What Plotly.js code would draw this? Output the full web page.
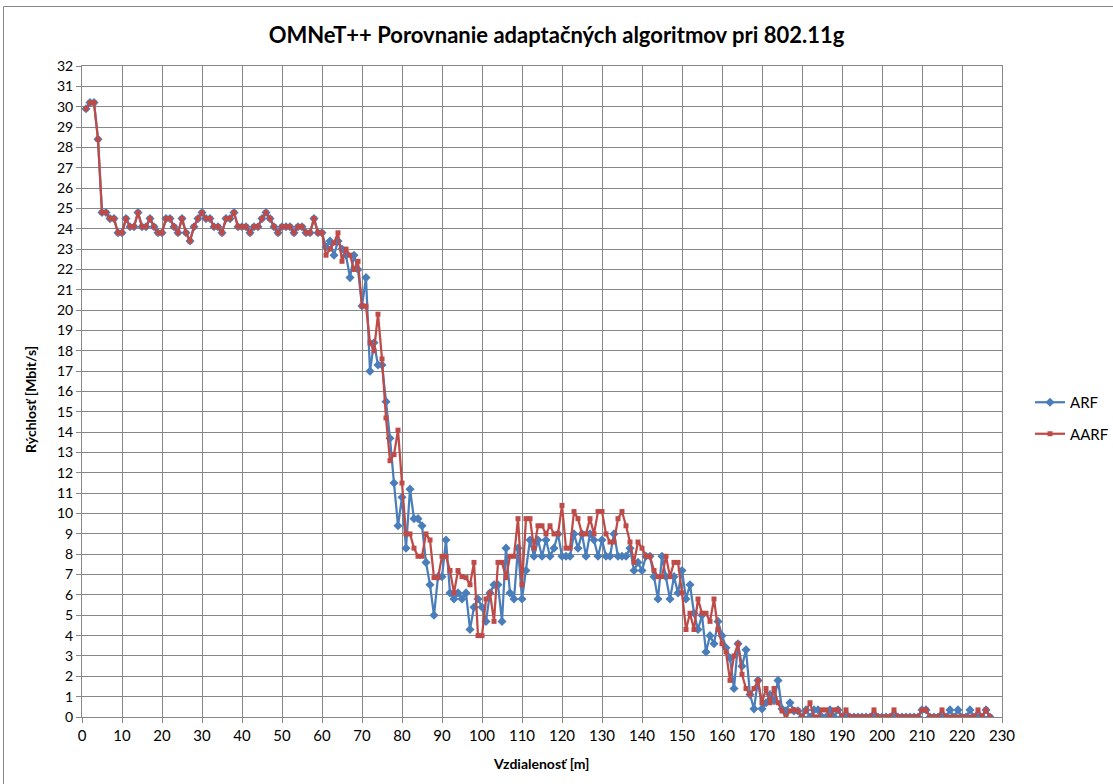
<!DOCTYPE html>
<html>
<head>
<meta charset="utf-8">
<script src="https://cdn.plot.ly/plotly-3.0.1.min.js"></script>
<style>html,body{margin:0;padding:0;background:#fff;}#chart{width:1113px;height:784px;}</style>
</head>
<body>
<div id="chart"></div>
<script>
// Distance values [m]
var distance = [];
for (var i = 1; i <= 227; i++) distance.push(i);

// Common part (1..60) identical for both algorithms
var commonStart = [29.9,30.2,30.2,28.4,24.8,24.8,24.5,24.5,23.8,23.8,
24.5,24.1,24.1,24.8,24.1,24.1,24.5,24.1,23.8,23.8,
24.5,24.5,24.1,23.8,24.5,23.8,23.4,24.1,24.5,24.8,
24.5,24.5,24.1,24.1,23.8,24.5,24.5,24.8,24.1,24.1,
24.1,23.8,24.1,24.1,24.5,24.8,24.5,24.1,23.8,24.1,
24.1,24.1,23.8,24.1,24.1,23.8,23.8,24.5,23.8,23.8];

// ARF values 61..227
var arfRest = [23.1,23.4,22.7,23.4,23.0,22.7,21.6,22.7,22.0,20.2,
21.6,17.0,18.4,17.3,17.3,15.5,13.7,11.5,9.4,10.8,
8.3,11.2,9.75,9.75,9.4,7.6,6.5,5.0,6.9,6.9,
8.7,6.1,5.8,6.1,5.8,6.1,4.3,5.4,5.8,5.4,
4.7,6.1,6.5,6.5,4.7,8.3,6.1,5.8,8.3,5.8,
7.2,8.7,7.9,8.7,7.9,8.7,7.9,8.3,9.0,7.9,
7.9,7.9,9.0,8.3,9.0,7.9,9.0,8.7,7.9,8.7,
7.9,7.9,9.0,7.9,7.9,7.9,8.3,7.2,7.6,7.2,
7.9,7.9,6.9,5.8,7.9,6.9,5.8,6.9,6.1,7.2,
5.8,6.5,5.1,4.3,5.0,3.2,4.0,3.6,4.7,4.0,
3.4,2.9,1.4,3.6,2.5,3.3,1.1,0.4,1.8,0.4,
0.7,1.1,0.8,1.8,0.4,0.3,0.7,0.3,0.3,0,
0.35,0,0.35,0.35,0,0,0.35,0,0.35,0,
0,0,0,0,0,0,0,0,0,0,
0,0,0,0,0,0,0,0,0,0.35,
0.35,0,0,0,0,0,0.35,0,0.35,0,
0,0.35,0,0,0,0.35,0];

// AARF values 61..227
var aarfRest = [22.7,23.0,23.3,23.8,22.4,23.0,22.7,22.0,22.4,20.2,
20.2,18.4,18.0,19.8,17.6,14.7,12.6,12.9,14.1,11.5,
9.0,9.0,8.3,7.9,7.9,9.0,8.7,6.85,6.85,7.9,
7.9,7.2,6.1,7.2,6.9,6.85,6.5,7.6,4.0,4.0,
5.8,6.1,4.7,7.6,7.6,6.85,7.9,7.9,9.75,6.5,
9.75,9.75,8.3,9.4,9.4,9.0,9.4,9.0,9.0,10.4,
8.3,8.3,10.1,9.75,9.0,9.0,9.75,9.0,10.1,10.1,
9.0,8.6,8.6,9.75,10.1,9.4,8.6,7.6,8.6,8.3,
7.9,7.9,7.2,6.9,6.9,7.9,6.9,7.6,7.6,6.1,
4.3,5.1,4.3,5.8,5.1,5.1,4.7,5.8,4.3,3.6,
3.2,1.8,3.0,3.6,2.1,1.4,1.1,1.4,1.8,0.7,
1.4,0.7,1.4,0.7,0.3,0,0.3,0.35,0.3,0,
0.3,0.7,0,0,0.35,0.35,0,0.35,0.35,0,
0.35,0,0,0,0,0,0,0.35,0,0,
0,0,0.35,0,0,0,0,0,0,0.35,
0.35,0,0,0,0.35,0,0,0,0,0,
0,0,0,0.35,0,0.35,0];

var arf = commonStart.concat(arfRest);
var aarf = commonStart.concat(aarfRest);

var xTicks = [];
for (var t = 0; t <= 230; t += 10) xTicks.push(t);
var yTicks = [];
for (var u = 0; u <= 32; u += 1) yTicks.push(u);

var seriesNames = ['ARF', 'AARF'];
var titleText = 'OMNeT++ Porovnanie adaptačných algoritmov pri 802.11g';
var xTitle = 'Vzdialenosť [m]';
var yTitle = 'Rýchlosť [Mbit/s]';

var W = 1113, H = 784;
var M = {l: 82, r: 111, t: 66, b: 67};
var pw = W - M.l - M.r, ph = H - M.t - M.b;
function px2x(p){ return (p - M.l) / pw; }
function py2y(p){ return (H - M.b - p) / ph; }

var font = 'Lato, "Liberation Sans", Arial, sans-serif';
var grid = '#878787';

var traces = [
  {x: distance, y: arf, name: seriesNames[0], type: 'scatter', mode: 'lines+markers',
   legendgroup: 'a',
   line: {color: '#4A7EBB', width: 2.25},
   marker: {symbol: 'diamond', size: 7, color: '#4A7EBB'}},
  {x: distance, y: aarf, name: seriesNames[1], type: 'scatter', mode: 'lines+markers',
   legendgroup: 'b',
   line: {color: '#BE4B48', width: 2.25},
   marker: {symbol: 'square', size: 5, color: '#BE4B48'}}
];

var layout = {
  width: W, height: H,
  margin: M,
  paper_bgcolor: '#fff', plot_bgcolor: '#fff',
  font: {family: font, color: '#000'},
  showlegend: true,
  title: {text: '<b>' + titleText + '</b>', font: {family: font, size: 22, color: '#000'},
          xref: 'container', x: 0.5, xanchor: 'center', yref: 'container', y: 1 - 35/H, yanchor: 'middle'},
  xaxis: {range: [0, 230], tickvals: xTicks, ticktext: xTicks.map(String),
          showgrid: true, gridcolor: grid, gridwidth: 1,
          showline: true, linecolor: grid, linewidth: 1, mirror: true,
          zeroline: false, ticks: 'outside', ticklen: 5, tickcolor: grid,
          tickfont: {family: font, size: 15, color: '#000'}, fixedrange: true, automargin: false},
  yaxis: {range: [0, 32], tickvals: yTicks, ticktext: yTicks.map(String),
          showgrid: true, gridcolor: grid, gridwidth: 1,
          showline: true, linecolor: grid, linewidth: 1, mirror: true,
          zeroline: false, ticks: 'outside', ticklen: 5, tickcolor: grid,
          tickfont: {family: font, size: 14, color: '#000'}, fixedrange: true, automargin: false},
  legend: {xref: 'container', yref: 'container', x: 1030 / W, xanchor: 'left', y: 1 - 418 / H, yanchor: 'middle',
           font: {family: font, size: 15, color: '#000'},
           traceorder: 'grouped', tracegroupgap: 9, bgcolor: 'rgba(0,0,0,0)'},
  annotations: [
    {text: '<b>' + xTitle + '</b>', xref: 'paper', yref: 'paper', x: px2x(541), y: py2y(763),
     xanchor: 'center', yanchor: 'middle', showarrow: false, font: {family: font, size: 14, color: '#000'}},
    {text: '<b>' + yTitle + '</b>', xref: 'paper', yref: 'paper', x: px2x(31), y: py2y(400),
     xanchor: 'center', yanchor: 'middle', textangle: -90, showarrow: false, font: {family: font, size: 14, color: '#000'}}
  ],
  shapes: [
    {type: 'rect', xref: 'paper', yref: 'paper', x0: px2x(3.5), x1: px2x(1125), y0: py2y(795), y1: py2y(6.5),
     line: {color: '#878787', width: 1}, fillcolor: 'rgba(0,0,0,0)', layer: 'below'}
  ]
};

Plotly.newPlot('chart', traces, layout, {displayModeBar: false, staticPlot: true});
</script>
</body>
</html>
